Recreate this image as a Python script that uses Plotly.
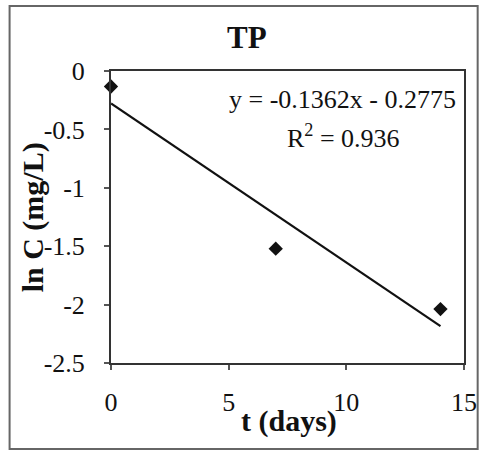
import numpy as np
import plotly.graph_objects as go

# Measured TP concentrations (natural log) over time
t_days = [0, 7, 14]
ln_c = [-0.1325, -1.521, -2.0385]

# Linear regression reported on the chart
slope = -0.1362
intercept = -0.2775
r_squared = 0.936

x_ticks = [0, 5, 10, 15]
y_ticks = [0, -0.5, -1, -1.5, -2, -2.5]

fit_x = np.array([min(t_days), max(t_days)])
fit_y = slope * fit_x + intercept

FONT = "Liberation Serif"

fig = go.Figure()
fig.add_trace(go.Scatter(
    x=fit_x, y=fit_y, mode="lines",
    line=dict(color="#111111", width=2.2), showlegend=False,
))
fig.add_trace(go.Scatter(
    x=t_days, y=ln_c, mode="markers",
    marker=dict(symbol="diamond", size=11, color="#111111"),
    showlegend=False, cliponaxis=False,
))

fig.update_layout(
    width=489, height=451,
    margin=dict(l=111, r=16, t=71, b=88),
    paper_bgcolor="white", plot_bgcolor="white",
    font=dict(family=FONT, color="#111111"),
    xaxis=dict(
        range=[0, 15], tickvals=x_ticks, ticktext=[str(v) for v in x_ticks],
        showgrid=False, zeroline=False,
        showline=True, linecolor="#333333", linewidth=2, mirror=True,
        ticks="outside", ticklen=5, tickcolor="#555555", tickwidth=1.5,
        ticklabelstandoff=10,
        tickfont=dict(family=FONT, size=26, color="#111111"),
    ),
    yaxis=dict(
        range=[-2.5, 0], tickvals=y_ticks,
        ticktext=["0", "-0.5", "-1", "-1.5", "-2", "-2.5"],
        showgrid=False, zeroline=False,
        showline=True, linecolor="#333333", linewidth=2, mirror=True,
        ticks="outside", ticklen=5, tickcolor="#555555", tickwidth=1.5,
        ticklabelstandoff=14,
        tickfont=dict(family=FONT, size=26, color="#111111"),
    ),
)

# Outer frame around the whole chart
fig.add_shape(
    type="rect", xref="paper", yref="paper",
    x0=-0.2873, x1=1.0387, y0=-0.2945, y1=1.2226,
    line=dict(color="#666666", width=2), layer="below",
)

# Title
fig.add_annotation(
    text="<b>TP</b>", xref="paper", yref="paper",
    x=0.385, y=1.115, xanchor="center", yanchor="middle",
    showarrow=False, font=dict(family=FONT, size=31, color="#111111"),
)

# Axis titles
fig.add_annotation(
    text="<b>t (days)</b>", xref="paper", yref="paper",
    x=0.505, y=-0.2, xanchor="center", yanchor="middle",
    showarrow=False, font=dict(family=FONT, size=30, color="#111111"),
)
fig.add_annotation(
    text="<b>ln C (mg/L)</b>", xref="paper", yref="paper",
    x=-0.22, y=0.5, xanchor="center", yanchor="middle", textangle=-90,
    showarrow=False, font=dict(family=FONT, size=30, color="#111111"),
)

# Regression equation and coefficient of determination
fig.add_annotation(
    text=f"y = {slope:.4f}x - {abs(intercept):.4f}", xref="paper", yref="paper",
    x=0.655, y=0.903, xanchor="center", yanchor="middle",
    showarrow=False, font=dict(family=FONT, size=26, color="#111111"),
)
fig.add_annotation(
    text=f"R<sup>2</sup> = {r_squared:.3f}", xref="paper", yref="paper",
    x=0.66, y=0.775, xanchor="center", yanchor="middle",
    showarrow=False, font=dict(family=FONT, size=26, color="#111111"),
)

fig.write_html("out.html")
